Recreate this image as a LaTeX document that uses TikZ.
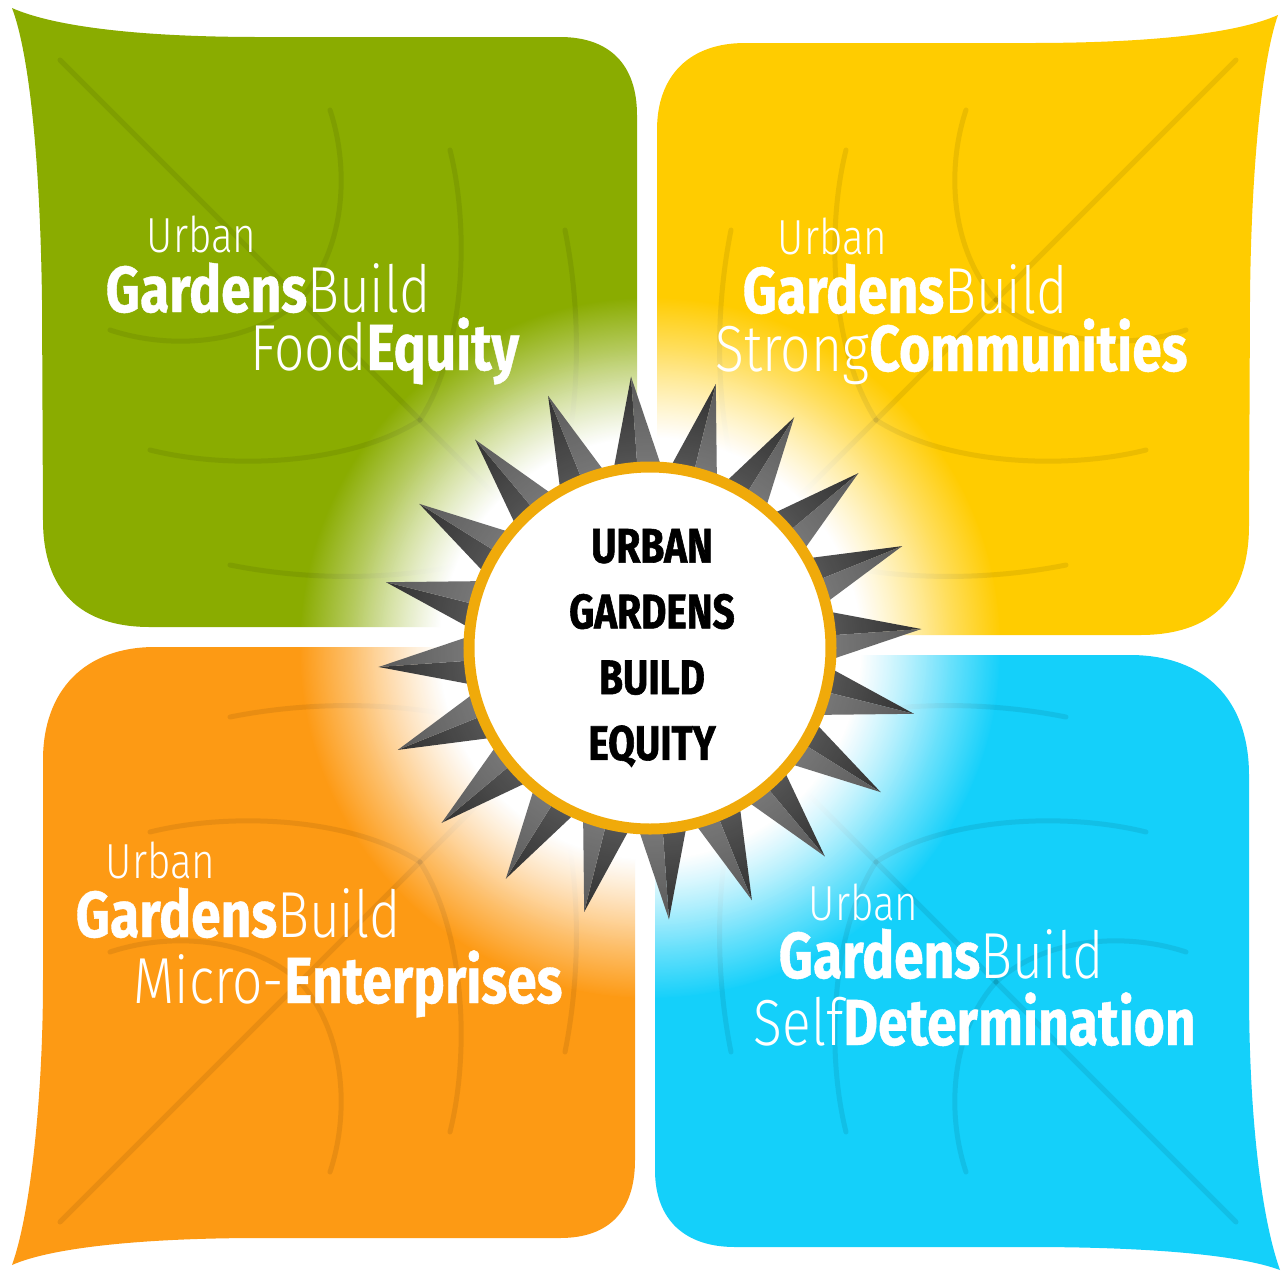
\documentclass[tikz,border=0pt]{standalone}
\usepackage{fontspec}
\setmainfont{Fira Sans}
\newfontfamily\heavyfont[FakeStretch=0.82, FakeBold=0.6]{Fira Sans Bold}
\newfontfamily\hubfont[FakeStretch=0.8, FakeBold=1.2]{Fira Sans Bold}
\newfontfamily\thinfont[FakeStretch=0.82]{Fira Sans Light}
\usetikzlibrary{fadings}

\definecolor{leafgreen}{RGB}{138,172,0}
\definecolor{leafyellow}{RGB}{255,204,0}
\definecolor{leaforange}{RGB}{253,154,20}
\definecolor{leafcyan}{RGB}{20,208,250}
\definecolor{ringgold}{RGB}{240,170,10}

\pgfdeclareradialshading{glowshade}{\pgfpointorigin}{%
  color(0bp)=(pgftransparent!0); color(15bp)=(pgftransparent!0);
  color(25bp)=(pgftransparent!100); color(50bp)=(pgftransparent!100)}
\pgfdeclarefading{glowfade}{\pgfuseshading{glowshade}}

\newcommand{\gb}[1]{{\heavyfont #1}}
\newcommand{\gl}[1]{{\thinfont #1}}

% veins of one leaf, drawn for the top left one
\newcommand{\leafveins}{
  \draw[vein] (60,60) -- (600,600);
  \draw[vein] (300,300) .. controls (345,250) and (350,170) .. (330,110);
  \draw[vein] (420,420) .. controls (465,350) and (470,230) .. (450,150);
  \draw[vein] (540,540) .. controls (580,450) and (585,330) .. (565,230);
  \draw[vein] (300,300) .. controls (250,345) and (170,350) .. (110,330);
  \draw[vein] (420,420) .. controls (350,465) and (230,470) .. (150,450);
  \draw[vein] (540,540) .. controls (450,580) and (330,585) .. (230,565);
}

\tikzset{
  vein/.style={black, opacity=0.08, line width=0.05cm, line cap=round},
  urbanline/.style={anchor=base west, inner sep=0pt, text=white, font=\thinfont\fontsize{14}{14}\selectfont},
  mainline/.style={anchor=base west, inner sep=0pt, text=white, font=\fontsize{18.5}{18.5}\selectfont},
}

\begin{document}
\begin{tikzpicture}[x=0.01cm, y=-0.01cm]
  \useasboundingbox (0,0) rectangle (1284,1272);
  \fill[white] (0,0) rectangle (1284,1272);

  % leaves
  \fill[leafgreen] (12,8) .. controls (50,25) and (130,37) .. (260,37) -- (560,37)
    .. controls (610,37) and (637,65) .. (637,115) -- (637,627) -- (150,627)
    .. controls (80,627) and (43,590) .. (43,520) -- (42,300)
    .. controls (40,150) and (28,50) .. (12,8) -- cycle;
  \fill[leafyellow] (1278,15) .. controls (1240,32) and (1160,43) .. (1030,43) -- (745,43)
    .. controls (690,43) and (657,75) .. (657,130) -- (657,635) -- (1140,635)
    .. controls (1210,635) and (1249,600) .. (1249,525) -- (1250,300)
    .. controls (1251,170) and (1262,60) .. (1278,15) -- cycle;
  \fill[leaforange] (12,1265) .. controls (50,1248) and (140,1238) .. (260,1238) -- (560,1238)
    .. controls (610,1238) and (635,1210) .. (635,1160) -- (635,647) -- (155,647)
    .. controls (85,647) and (43,690) .. (43,760) -- (43,980)
    .. controls (43,1100) and (30,1215) .. (12,1265) -- cycle;
  \fill[leafcyan] (1280,1270) .. controls (1240,1255) and (1150,1247) .. (1030,1247) -- (735,1247)
    .. controls (685,1247) and (655,1220) .. (655,1170) -- (655,655) -- (1130,655)
    .. controls (1205,655) and (1249,700) .. (1249,775) -- (1249,990)
    .. controls (1249,1120) and (1262,1220) .. (1280,1270) -- cycle;

  % veins
  \leafveins
  \begin{scope}[shift={(1296,0)}, xscale=-1]
    \leafveins
  \end{scope}
  \begin{scope}[shift={(0,1282)}, yscale=-1]
    \leafveins
  \end{scope}
  \begin{scope}[shift={(1296,1282)}, xscale=-1, yscale=-1]
    \leafveins
  \end{scope}

  % glow
  \fill[white, path fading=glowfade] (650,648) circle (350);

  % spikes
  \begin{scope}[shift={(650,648)}]
    \foreach \a in {14,32,...,356} {
      \fill[black!85] (\a-8.5:175) -- (\a:272) -- (\a:175) -- cycle;
      \fill[black!68] (\a:175) -- (\a:272) -- (\a+8.5:175) -- cycle;
    }
  \end{scope}
  \fill[white, fill opacity=0.22, path fading=glowfade] (650,648) circle (300);

  % hub
  \fill[white] (650,648) circle (181);
  \draw[ringgold, line width=0.11cm] (650,648) circle (181);
  \node (hub) at (652,648) [align=center, inner sep=0pt,
    font=\hubfont\fontsize{13.8}{18.7}\selectfont] {URBAN\\GARDENS\\BUILD\\EQUITY};

  % food equity
  \node (food-urban) at (146,252) [urbanline] {Urban};
  \node (food-build) at (105,312) [mainline] {\gb{Gardens}\gl{Build}};
  \node (food-topic) at (250,370) [mainline] {\gl{Food}\gb{Equity}};

  % strong communities
  \node (comm-urban) at (777,254) [urbanline] {Urban};
  \node (comm-build) at (742,313) [mainline] {\gb{Gardens}\gl{Build}};
  \node (comm-topic) at (715,371) [mainline] {\gl{Strong}\gb{Communities}};

  % micro-enterprises
  \node (micro-urban) at (105,878) [urbanline] {Urban};
  \node (micro-build) at (75,937) [mainline] {\gb{Gardens}\gl{Build}};
  \node (micro-topic) at (133,1003) [mainline] {\gl{Micro-}\gb{Enterprises}};

  % self determination
  \node (self-urban) at (808,920) [urbanline] {Urban};
  \node (self-build) at (778,978) [mainline] {\gb{Gardens}\gl{Build}};
  \node (self-topic) at (753,1045) [mainline] {\gl{Self}\gb{Determination}};
\end{tikzpicture}
\end{document}
